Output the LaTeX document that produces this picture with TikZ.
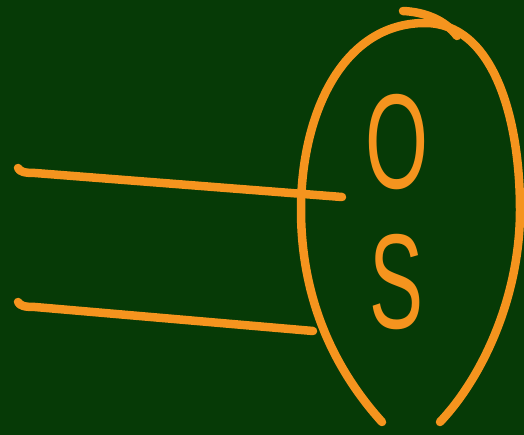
\documentclass[tikz,border=0pt]{standalone}
\usepackage{fontspec}
\setmainfont{Liberation Sans}
\definecolor{board}{RGB}{6,58,6}
\definecolor{chalk}{RGB}{245,148,30}
\begin{document}
\begin{tikzpicture}[x=1pt,y=-1pt,
  chalkline/.style={draw=chalk,line width=8.5pt,line cap=round,line join=round},
  letter/.style={text=chalk,font=\fontsize{135}{135}\selectfont,inner sep=0pt,xscale=0.6}]
\fill[board] (0,0) rectangle (524,435);
\useasboundingbox (0,0) rectangle (524,435);
% ring
\draw[chalkline] (382,422) .. controls (335,370) and (301,300) .. (301,210)
  .. controls (301,115) and (342,23) .. (425,23)
  .. controls (492,23) and (520,115) .. (520,210)
  .. controls (520,300) and (480,380) .. (440,422);
% arrow barb
\draw[chalkline] (403,11) .. controls (425,12) and (445,20) .. (457,36);
% lines
\draw[chalkline] (18,168) .. controls (20,172) and (25,173) .. (35,173) -- (342,197);
\draw[chalkline] (18,302) .. controls (20,306) and (25,307) .. (35,307) -- (313,331);
% letters
\node[letter] (o) at (397,142) {O};
\node[letter] (s) at (397,282) {S};
\end{tikzpicture}
\end{document}
